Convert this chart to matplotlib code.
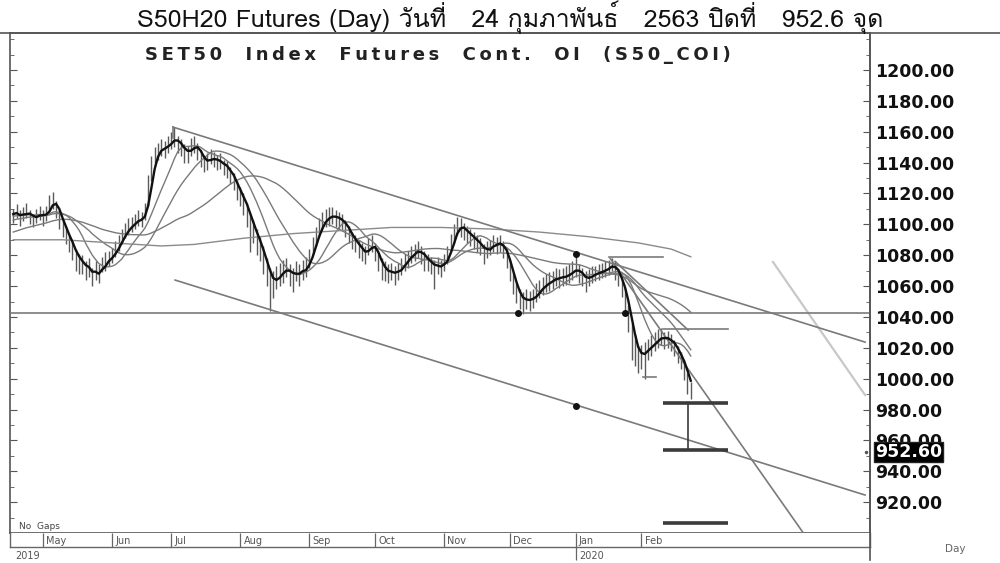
import numpy as np
import pandas as pd
import matplotlib
matplotlib.use('Agg')
import matplotlib.pyplot as plt
import matplotlib.transforms as mtransforms
from matplotlib import font_manager
from matplotlib.ft2font import FT2Font
from matplotlib.lines import Line2D

# =============================================================================
# DATA (x = trading day index, y = index points)
# =============================================================================

title_text = "S50H20 Futures (Day) วันที่   24 กุมภาพันธ์   2563 ปิดที่   952.6 จุด"
subtitle_text = "SET50  Index  Futures  Cont.  OI  (S50_COI)"

months = ['May', 'Jun', 'Jul', 'Aug', 'Sep', 'Oct', 'Nov', 'Dec', 'Jan', 'Feb']
month_start = [9, 30, 48, 69, 90, 110, 131, 151, 171, 191]
years = ['2019', '2020']
year_start = [-0.5, 171]

price_ticks = [920, 940, 960, 980, 1000, 1020, 1040, 1060, 1080, 1100,
               1120, 1140, 1160, 1180, 1200]
last_close = 952.60

# closes before the first visible bar, only used to warm up the averages
pre_close = [1078, 1080, 1076, 1079, 1082, 1084, 1081, 1085, 1088, 1086,
             1084, 1087, 1090, 1092, 1089, 1091, 1094, 1092, 1095, 1097,
             1094, 1096, 1099, 1101, 1098, 1100, 1102, 1104, 1101, 1099,
             1102, 1105, 1103, 1106, 1104, 1107, 1105, 1103, 1106, 1108]

close = [1106, 1108, 1104, 1107, 1109, 1105, 1103, 1106, 1108, 1104, 1107,
         1114, 1116, 1110, 1104, 1098, 1094, 1088, 1084, 1078, 1076,
         1075, 1070, 1072, 1066, 1070, 1068, 1074, 1076, 1078, 1080,
         1084, 1088, 1092, 1096, 1098, 1100, 1102, 1104, 1103, 1108,
         1125, 1138, 1145, 1148, 1150, 1149, 1152, 1155, 1156, 1152,
         1150, 1147, 1146, 1150, 1152, 1148, 1143, 1140, 1141, 1144,
         1142, 1140, 1141, 1137, 1136, 1132, 1128, 1122, 1118, 1114,
         1108, 1100, 1096, 1090, 1084, 1078, 1070, 1064, 1062, 1066,
         1068, 1070, 1072, 1068, 1066, 1070, 1068, 1071, 1072, 1078,
         1086, 1092, 1098, 1102, 1104, 1105, 1106, 1104, 1103, 1102,
         1098, 1094, 1090, 1088, 1085, 1082, 1080, 1086, 1088, 1082,
         1076, 1072, 1070, 1068, 1070, 1068, 1070, 1073, 1076, 1078,
         1081, 1082, 1084, 1080, 1078, 1076, 1074, 1072, 1074, 1072,
         1076, 1080, 1088, 1094, 1100, 1098, 1096, 1094, 1092, 1090,
         1088, 1086, 1082, 1084, 1085, 1088, 1087, 1088, 1084, 1078,
         1070, 1062, 1056, 1052, 1050, 1052, 1051, 1052, 1056, 1058,
         1060, 1062, 1063, 1064, 1066, 1065, 1066, 1067, 1068, 1070,
         1072, 1068, 1066, 1064, 1066, 1068, 1068, 1069, 1070, 1071,
         1072, 1075, 1070, 1066, 1060, 1052, 1040, 1028, 1020, 1014,
         1016, 1018, 1020, 1022, 1024, 1026, 1028, 1025, 1026, 1024,
         1020, 1016, 1012, 1006, 998, 992]

high = [1110, 1113, 1109, 1111, 1114, 1109, 1107, 1110, 1112, 1109, 1112,
        1119, 1121, 1115, 1109, 1103, 1099, 1093, 1089, 1084, 1081,
        1080, 1076, 1078, 1072, 1076, 1074, 1079, 1082, 1083, 1085,
        1089, 1093, 1097, 1101, 1104, 1105, 1107, 1109, 1108, 1114,
        1132, 1144, 1150, 1153, 1155, 1154, 1157, 1160, 1163, 1157,
        1155, 1152, 1151, 1156, 1157, 1153, 1148, 1145, 1146, 1149,
        1147, 1145, 1146, 1142, 1141, 1137, 1133, 1128, 1124, 1120,
        1114, 1107, 1103, 1097, 1092, 1086, 1078, 1072, 1070, 1073,
        1075, 1077, 1078, 1074, 1072, 1076, 1074, 1077, 1079, 1084,
        1092, 1098, 1104, 1108, 1110, 1111, 1111, 1109, 1108, 1107,
        1103, 1099, 1095, 1093, 1090, 1088, 1086, 1091, 1093, 1088,
        1082, 1078, 1076, 1074, 1075, 1073, 1075, 1078, 1081, 1083,
        1086, 1087, 1089, 1086, 1083, 1081, 1079, 1077, 1079, 1077,
        1081, 1086, 1094, 1100, 1105, 1104, 1101, 1099, 1097, 1095,
        1093, 1091, 1087, 1089, 1090, 1093, 1092, 1093, 1089, 1084,
        1077, 1069, 1062, 1058, 1056, 1058, 1057, 1058, 1062, 1064,
        1066, 1068, 1069, 1070, 1072, 1071, 1072, 1073, 1074, 1076,
        1081, 1074, 1072, 1070, 1071, 1073, 1073, 1074, 1075, 1076,
        1077, 1078, 1076, 1071, 1066, 1059, 1048, 1036, 1028, 1022,
        1022, 1024, 1026, 1028, 1030, 1032, 1033, 1030, 1031, 1029,
        1025, 1021, 1017, 1012, 1004, 998]

low = [1101, 1104, 1099, 1102, 1104, 1100, 1098, 1101, 1103, 1099, 1102,
       1108, 1110, 1104, 1097, 1092, 1087, 1082, 1077, 1070, 1068,
       1068, 1064, 1066, 1060, 1064, 1062, 1069, 1070, 1073, 1075,
       1079, 1083, 1087, 1091, 1093, 1095, 1097, 1099, 1098, 1103,
       1112, 1128, 1138, 1142, 1144, 1143, 1146, 1149, 1150, 1146,
       1144, 1140, 1140, 1144, 1146, 1142, 1137, 1134, 1135, 1139,
       1137, 1135, 1136, 1132, 1130, 1126, 1122, 1116, 1112, 1106,
       1098, 1082, 1088, 1080, 1076, 1068, 1060, 1044, 1052, 1058,
       1060, 1062, 1066, 1060, 1056, 1063, 1060, 1064, 1066, 1072,
       1080, 1086, 1092, 1096, 1098, 1099, 1100, 1098, 1097, 1096,
       1092, 1088, 1084, 1082, 1078, 1076, 1074, 1080, 1082, 1076,
       1070, 1064, 1063, 1062, 1064, 1061, 1064, 1067, 1070, 1072,
       1075, 1076, 1078, 1074, 1070, 1070, 1068, 1058, 1068, 1066,
       1070, 1074, 1082, 1088, 1093, 1092, 1090, 1088, 1086, 1084,
       1082, 1080, 1074, 1078, 1080, 1082, 1081, 1082, 1078, 1072,
       1063, 1055, 1049, 1045, 1042, 1045, 1044, 1046, 1050, 1052,
       1054, 1056, 1057, 1058, 1060, 1059, 1060, 1061, 1062, 1064,
       1066, 1062, 1060, 1056, 1060, 1062, 1063, 1064, 1065, 1066,
       1067, 1070, 1064, 1060, 1053, 1044, 1030, 1012, 1008, 1004,
       1006, 1000, 1012, 1015, 1018, 1020, 1022, 1019, 1020, 1018,
       1015, 1010, 1006, 999, 990, 987]

# long average, read as a few points along its curve
long_ma_day = [0, 15, 30, 45, 55, 70, 85, 100, 115, 130, 145, 160, 175, 190, 200, 206]
long_ma = [1090, 1090, 1088, 1086, 1087, 1091, 1094, 1096, 1098, 1098,
           1097, 1095, 1092, 1088, 1084, 1079]

fast_window = 3
slow_windows = [10, 20, 40]

# drawn lines: (day0, price0, day1, price1)
trend_lines = [(48.6, 1163.0, 259.0, 1023.7),   # upper channel
               (49.2, 1063.9, 259.0, 924.6),    # lower channel
               (-1.0, 1042.5, 262.0, 1042.5),   # support
               (181.5, 1078.0, 240.7, 898.6),   # steep down line
               (183.0, 1076.0, 205.2, 1031.5),  # fan line
               (181.0, 1079.0, 197.6, 1079.0),  # peak level
               (197.6, 1032.0, 217.3, 1032.0),  # fan target
               (191.5, 1001.0, 195.4, 1001.0),
               (48.6, 1163.0, 48.6, 1156.0)]
light_line = (231.0, 1075.6, 259.0, 989.4)

target_levels = [984.0, 953.5, 906.5]
target_span = (197.6, 217.3)
target_day = 205.2

dot_day = [171, 153.5, 186, 171]
dot_price = [1081, 1042.5, 1042.5, 982.5]


def thai_family():
    # first installed font that carries Thai glyphs
    for f in font_manager.fontManager.ttflist:
        try:
            if 0x0E27 in FT2Font(f.fname).get_charmap():
                return f.name
        except Exception:
            pass
    return None


# =============================================================================
# FIGURE
# =============================================================================
W, H = 1000, 563
fig = plt.figure(figsize=(10, 5.63), dpi=100)
fig.patch.set_facecolor('white')

ax = fig.add_axes([10 / W, 1 - 533 / H, 860 / W, 500 / H])
ax.set_xlim(-1, 260.5)
ax.set_ylim(900, 1224)

days = np.arange(len(close))
ax.vlines(days, low, high, color='#5a5a5a', lw=1.0, zorder=2)

allc = pd.Series(pre_close + close, dtype=float)
off = len(pre_close)
for w in slow_windows:
    ma = allc.rolling(w, min_periods=1).mean().to_numpy()[off:]
    ax.plot(days, ma, color='#7a7a7a', lw=1.0, zorder=3)
fast = allc.rolling(fast_window, min_periods=1).mean().to_numpy()[off:]
ax.plot(days, fast, color='#111111', lw=1.7, zorder=4)
ax.plot(long_ma_day, long_ma, color='#8a8a8a', lw=1.0, zorder=3)

for x0, y0, x1, y1 in trend_lines:
    ax.plot([x0, x1], [y0, y1], color='#7a7a7a', lw=1.2, zorder=3)
x0, y0, x1, y1 = light_line
ax.plot([x0, x1], [y0, y1], color='#c8c8c8', lw=1.6, zorder=2)

ax.hlines(target_levels, target_span[0], target_span[1], color='#3a3a3a', lw=2.6, zorder=5)
ax.vlines(target_day, target_levels[1], target_levels[0], color='#3a3a3a', lw=1.2, zorder=5)
ax.plot(dot_day, dot_price, 'o', color='#111111', ms=4, zorder=6)

# right price scale
ax.yaxis.tick_right()
ax.set_yticks(price_ticks)
ax.set_yticklabels([f'{v:.2f}' for v in price_ticks])
ax.set_yticks(np.arange(900, 1221, 10), minor=True)
ax.tick_params(axis='y', which='both', direction='in', left=True, right=True,
               labelleft=False, labelright=True, pad=4, colors='#555555')
ax.tick_params(axis='y', which='major', length=5, labelsize=12.5, labelcolor='#111111')
ax.tick_params(axis='y', which='minor', length=3)
for t in ax.get_yticklabels():
    t.set_fontweight('bold')
ax.set_xticks([])
for s in ax.spines.values():
    s.set_color('#555555')
    s.set_linewidth(1.2)

trans = mtransforms.blended_transform_factory(ax.transAxes, ax.transData)
ax.text(1 + 5 / 860, last_close, f'{last_close:.2f}', transform=trans, ha='left', va='center',
        color='white', fontsize=12.5, fontweight='bold', zorder=20, clip_on=False,
        bbox=dict(facecolor='black', edgecolor='#222222', pad=0.8))
ax.plot([259.2], [last_close], '.', color='#555555', ms=3, clip_on=False)

ax.text(0.01, 0.004, 'No  Gaps', transform=ax.transAxes, fontsize=6.5,
        color='#444444', va='bottom', ha='left')
# the subtitle is letter-spaced in the picture
spaced = '\u2009'.join(subtitle_text)
ax.text(428 / 860, 0.975, spaced, transform=ax.transAxes, ha='center',
        va='top', fontsize=13, fontweight='bold', color='#222222')

# month band under the chart
bx = fig.add_axes([10 / W, 1 - 547 / H, 860 / W, 14 / H])
bx.set_xlim(ax.get_xlim())
bx.set_ylim(0, 1)
bx.set_xticks([])
bx.set_yticks([])
bx.vlines(month_start, 0, 1, color='#666666', lw=0.9)
for m, d in zip(months, month_start):
    bx.text(d + 1.0, 0.45, m, fontsize=7, color='#555555', va='center', ha='left')
for y, d in zip(years, year_start):
    bx.text(d + 1.0, -0.3, y, fontsize=7, color='#555555', va='top', ha='left')
bx.vlines(year_start[1], -0.9, 0, color='#666666', lw=0.9, clip_on=False)
for s in bx.spines.values():
    s.set_color('#666666')
    s.set_linewidth(1.0)
bx.spines['top'].set_visible(False)

fig.add_artist(Line2D([0, 1], [1 - 33 / H] * 2, color='#555555', lw=1.2))
fig.add_artist(Line2D([870 / W] * 2, [1 - 560 / H, 1 - 33 / H], color='#555555', lw=1.2))
fig.text(0.945, 1 - 549 / H, 'Day', fontsize=7.5, color='#666666', va='center')

thai = thai_family()
fam = [thai, 'DejaVu Sans'] if thai else ['DejaVu Sans']
fig.text(0.51, 1 - 17 / H, title_text, ha='center', va='center', fontsize=18,
         color='#111111', family=fam)

fig.savefig('out.png', dpi=100)
